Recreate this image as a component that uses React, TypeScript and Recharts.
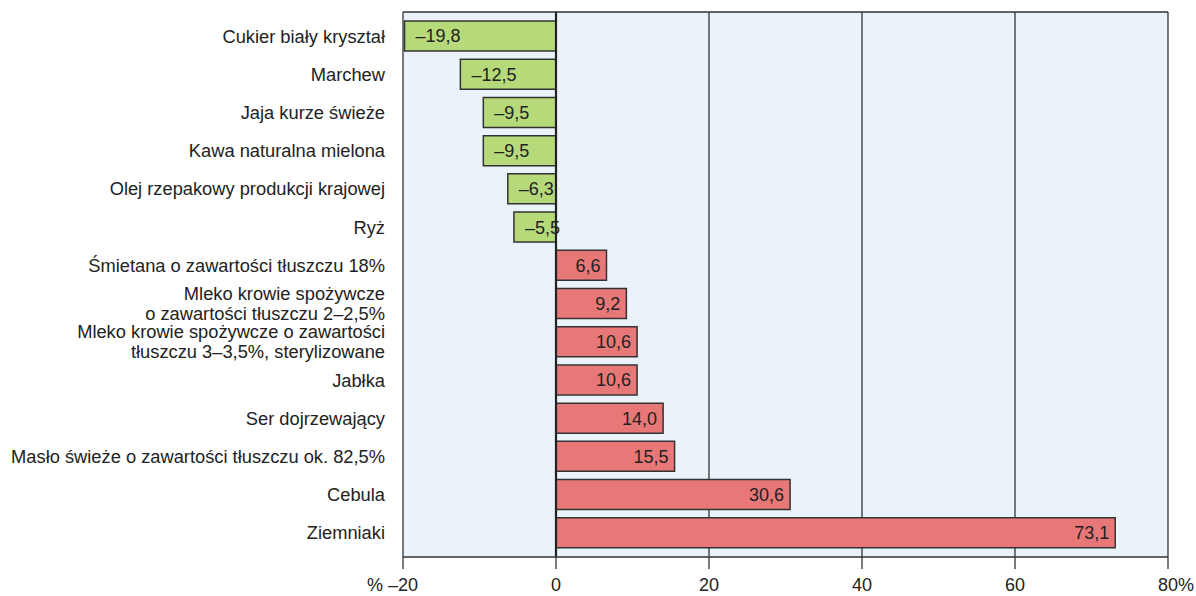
import React from 'react';
import { BarChart, Bar, XAxis, YAxis, CartesianGrid, Cell, LabelList, ReferenceLine } from 'recharts';

const categories = [
  'Cukier biały kryształ',
  'Marchew',
  'Jaja kurze świeże',
  'Kawa naturalna mielona',
  'Olej rzepakowy produkcji krajowej',
  'Ryż',
  'Śmietana o zawartości tłuszczu 18%',
  'Mleko krowie spożywcze\no zawartości tłuszczu 2–2,5%',
  'Mleko krowie spożywcze o zawartości\ntłuszczu 3–3,5%, sterylizowane',
  'Jabłka',
  'Ser dojrzewający',
  'Masło świeże o zawartości tłuszczu ok. 82,5%',
  'Cebula',
  'Ziemniaki',
];

const changes = [-19.8, -12.5, -9.5, -9.5, -6.3, -5.5, 6.6, 9.2, 10.6, 10.6, 14.0, 15.5, 30.6, 73.1];

const xTicks = [-20, 0, 20, 40, 60, 80];

const data = categories.map((name, i) => ({ name, value: changes[i] }));

const FONT = '"Liberation Sans", Arial, sans-serif';
const GREEN = '#b6d97a';
const RED = '#e87878';

const fmt = (v: number) => v.toFixed(1).replace('.', ',').replace('-', '–');

function YTick(props: any) {
  const { x, y, payload } = props;
  const lines = String(payload.value).split('\n');
  const lh = 20;
  const start = -((lines.length - 1) * lh) / 2;
  return (
    <text x={x} y={y} textAnchor="end" fontSize={18.3} fill="#222" fontFamily={FONT}>
      {lines.map((l, i) => (
        <tspan key={i} x={x} dy={i === 0 ? start + 6.5 : lh}>
          {l}
        </tspan>
      ))}
    </text>
  );
}

function XTick(props: any) {
  const { x, y, payload } = props;
  const v = payload.value as number;
  const label = v < 0 ? '–' + Math.abs(v) : String(v);
  return (
    <g>
      <text x={x} y={y + 20} textAnchor="middle" fontSize={18} fill="#222" fontFamily={FONT}>
        {label}
      </text>
      {v === -20 && (
        <text x={x - 20} y={y + 20} textAnchor="end" fontSize={18} fill="#222" fontFamily={FONT}>
          %
        </text>
      )}
      {v === 80 && (
        <text x={x + 10} y={y + 20} textAnchor="start" fontSize={18} fill="#222" fontFamily={FONT}>
          %
        </text>
      )}
    </g>
  );
}

function ValueLabel(props: any) {
  const { x, y, width, height, value } = props;
  const left = Math.min(x, x + width);
  const right = Math.max(x, x + width);
  const neg = value < 0;
  return (
    <text
      x={neg ? left + 11 : right - 6}
      y={y + height / 2}
      dy="0.36em"
      textAnchor={neg ? 'start' : 'end'}
      fontSize={18}
      fill="#222"
      fontFamily={FONT}
    >
      {fmt(value)}
    </text>
  );
}

export default function App() {
  return (
    <div style={{ position: 'absolute', left: 0, top: 0, width: 1196, height: 596, background: '#fff' }}>
      <BarChart
        width={1196}
        height={596}
        data={data}
        layout="vertical"
        margin={{ top: 12, right: 28, bottom: 0, left: 0 }}
        barSize={30}
      >
        <CartesianGrid
          fill="#eaf3fa"
          stroke="#333"
          strokeWidth={1.3}
          horizontalPoints={[12]}
        />
        <XAxis
          type="number"
          domain={[-20, 80]}
          ticks={xTicks}
          height={39}
          tickSize={12}
          tickLine={{ stroke: '#333', strokeWidth: 1.3 }}
          axisLine={{ stroke: '#333', strokeWidth: 1.5 }}
          tick={<XTick />}
          interval={0}
        />
        <YAxis
          type="category"
          dataKey="name"
          width={403}
          tickLine={false}
          axisLine={false}
          tickMargin={12}
          interval={0}
          padding={{ top: 5, bottom: 5 }}
          tick={<YTick />}
        />
        <Bar dataKey="value" stroke="#333" strokeWidth={1.5} isAnimationActive={false}>
          {data.map((d, i) => (
            <Cell key={i} fill={d.value < 0 ? GREEN : RED} />
          ))}
          <LabelList dataKey="value" content={<ValueLabel />} />
        </Bar>
        <ReferenceLine x={0} stroke="#222" strokeWidth={2.2} />
      </BarChart>
    </div>
  );
}
